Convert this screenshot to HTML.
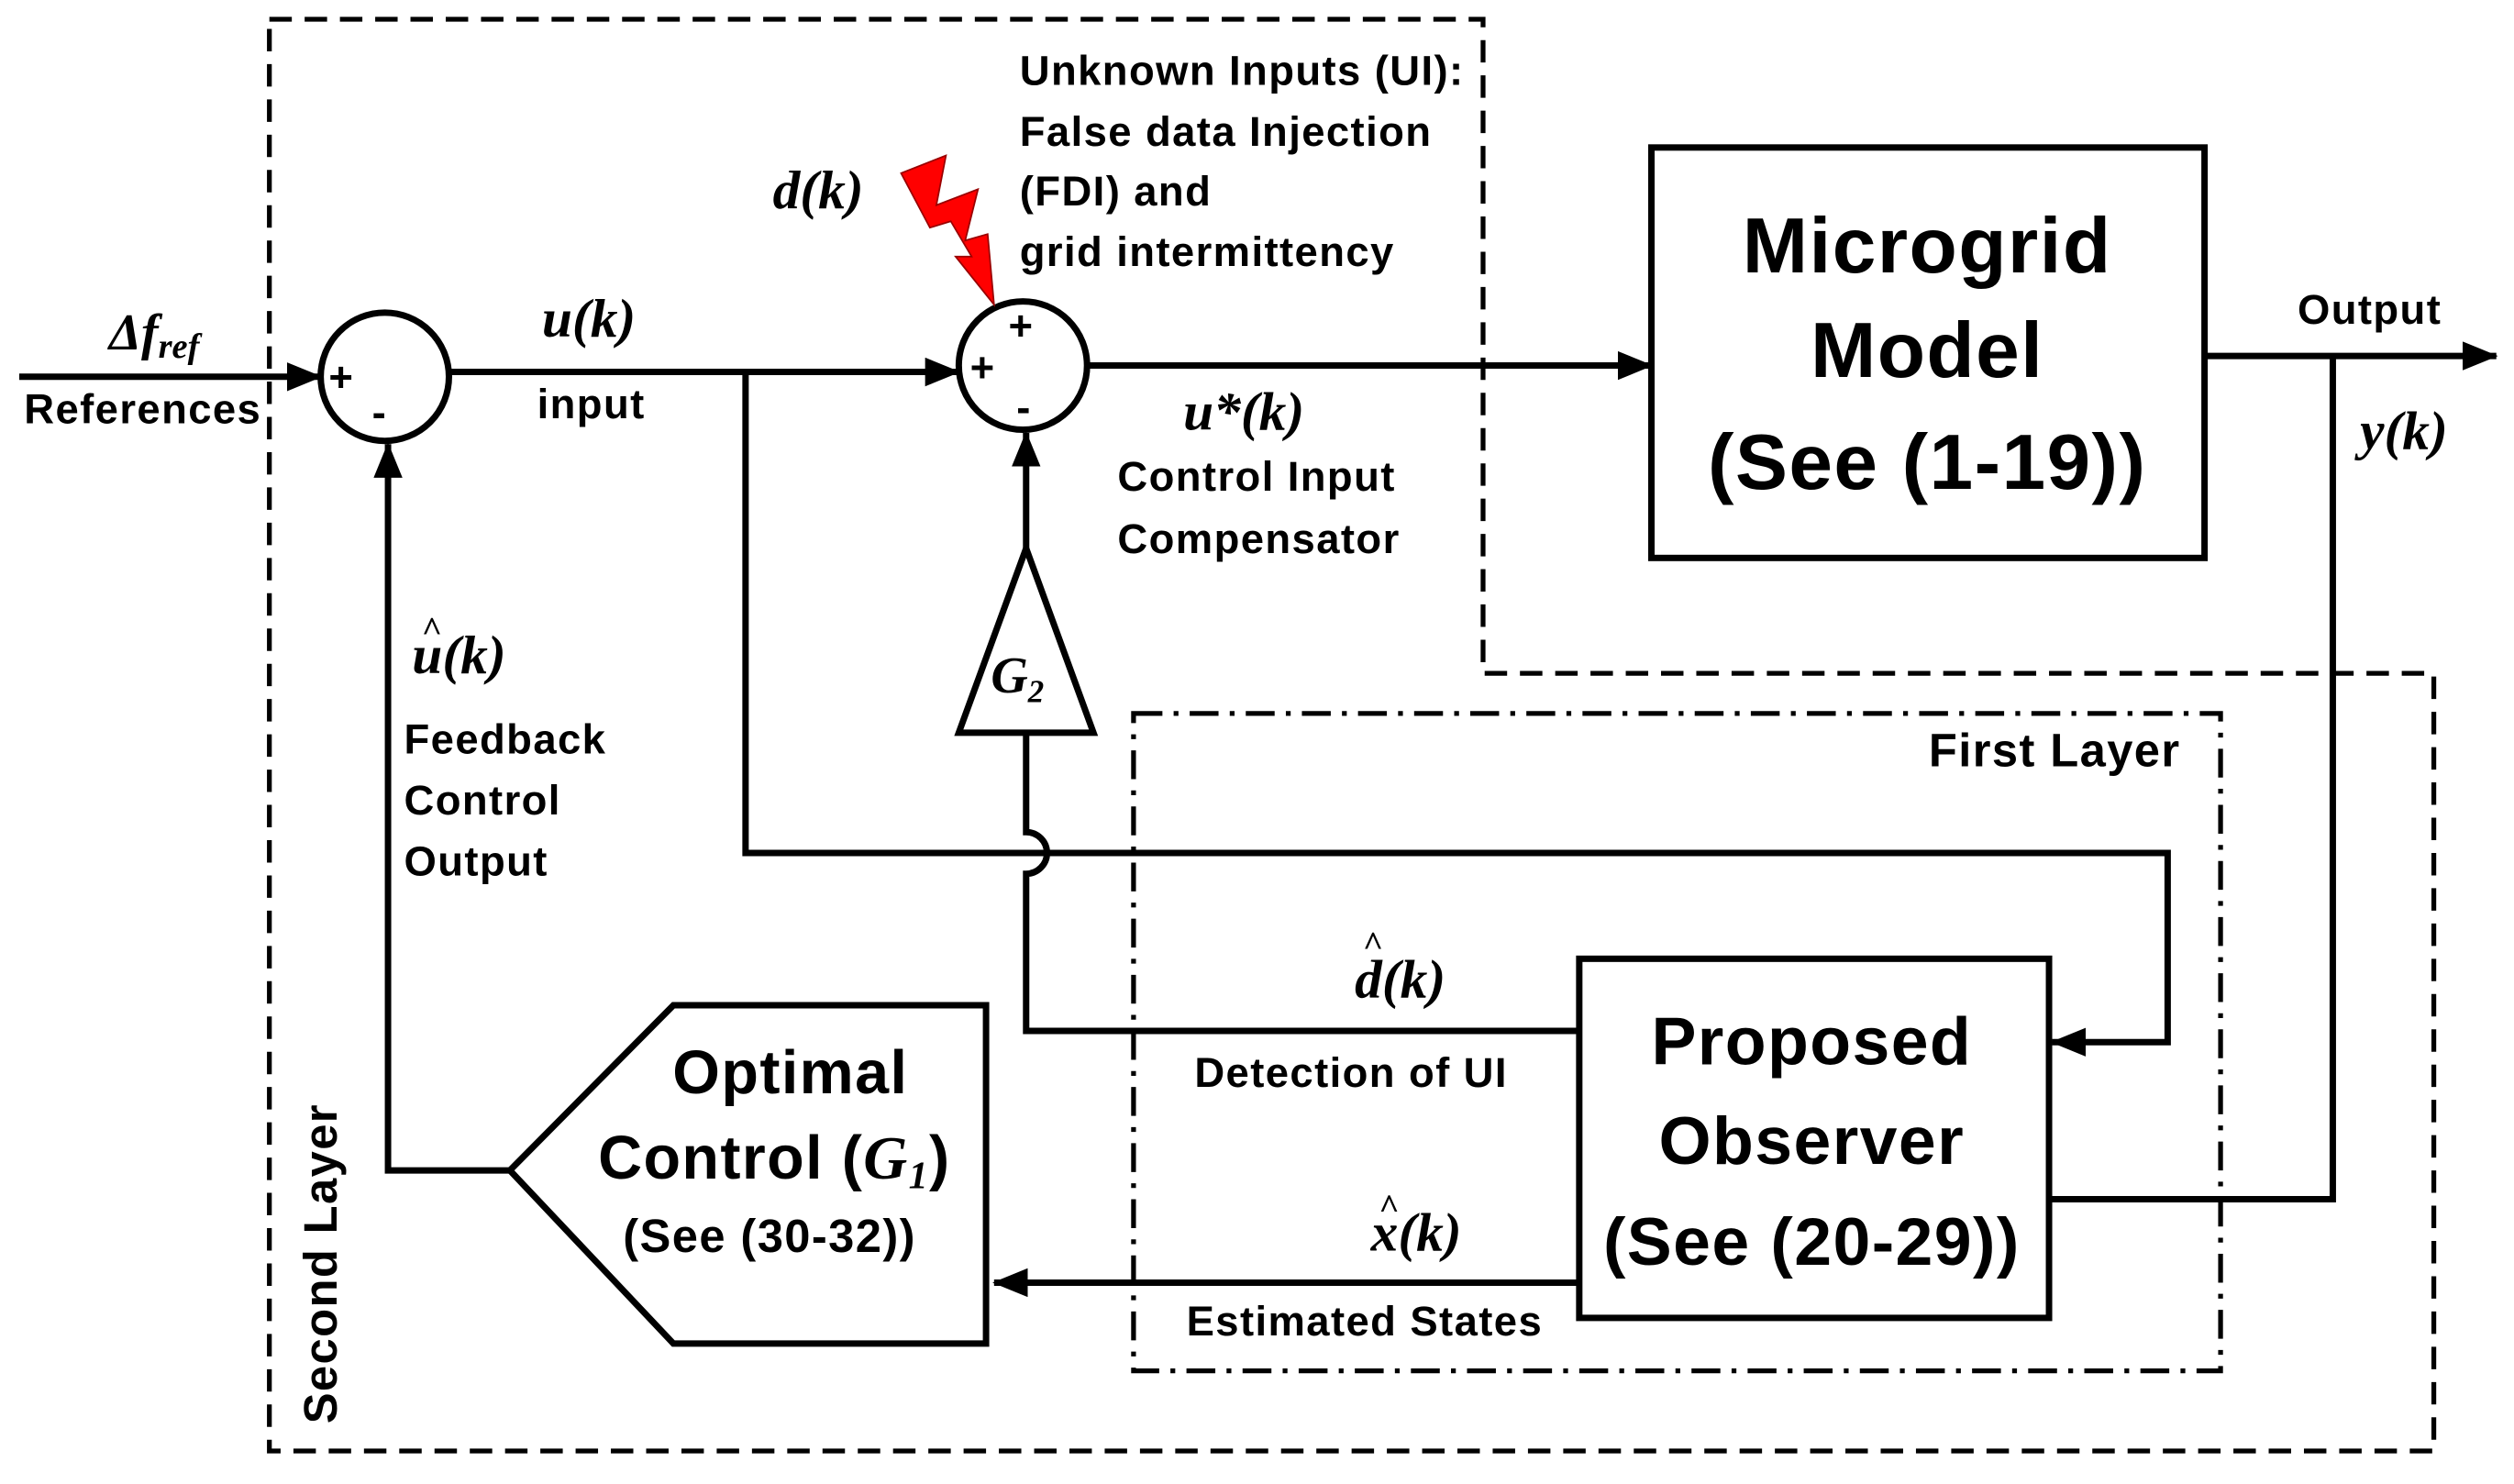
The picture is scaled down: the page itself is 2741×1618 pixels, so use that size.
<!DOCTYPE html>
<html><head><meta charset="utf-8"><style>html,body{margin:0;padding:0;background:#fff}svg{display:block}</style></head>
<body>
<svg width="2741" height="1618" viewBox="0 0 1568 925.6" xmlns="http://www.w3.org/2000/svg">
<defs>
<marker id="b" markerWidth="22" markerHeight="18" refX="21" refY="9" orient="auto" markerUnits="userSpaceOnUse"><path d="M0,0 L22,9 L0,18 z" fill="#000"/></marker>
</defs>
<rect width="1568" height="926" fill="#fff"/>
<g fill="none" stroke="#000" stroke-width="3">
<polyline points="168,12 925,12 925,420 1518,420 1518,905 168,905 168,12" stroke-dasharray="14,8"/>
<rect x="707" y="445" width="678" height="410" stroke-dasharray="18,7,3,7"/>
</g>
<g fill="none" stroke="#000" stroke-width="4">
<circle cx="240" cy="235" r="40"/>
<circle cx="638" cy="228" r="40"/>
<line x1="12" y1="235" x2="200" y2="235" marker-end="url(#b)"/>
<line x1="280" y1="232" x2="598" y2="232" marker-end="url(#b)"/>
<polyline points="465,232 465,532 1352,532 1352,650 1280,650" marker-end="url(#b)"/>
<line x1="678" y1="228" x2="1030" y2="228" marker-end="url(#b)"/>
<rect x="1030" y="92" width="345" height="256"/>
<line x1="1375" y1="222" x2="1557" y2="222" marker-end="url(#b)"/>
<polyline points="1455,222 1455,748 1278,748"/>
<rect x="985" y="598" width="293" height="224"/>
<path d="M985,643 L640,643 L640,545 A13,13 0 0 0 640,519 L640,457"/>
<polygon points="598,457 682,457 640,342"/>
<line x1="640" y1="342" x2="640" y2="270" marker-end="url(#b)"/>
<line x1="985" y1="800" x2="620" y2="800" marker-end="url(#b)"/>
<polygon points="318,730 420,627 615,627 615,838 420,838"/>
<polyline points="318,730 242,730 242,277" marker-end="url(#b)"/>
</g>
<polygon points="562,108 590,97 584,128 610,118 602,150 616,146 620,190 596,160 606,160 593,138 580,142" fill="#f00" stroke="#900" stroke-width="1"/>
<g font-family="Liberation Sans, sans-serif" font-weight="bold" fill="#000" letter-spacing="0.8">
<text x="15" y="264" font-size="26">References</text>
<text x="335" y="261" font-size="26">input</text>
<text x="636" y="53" font-size="26">Unknown Inputs (UI):</text>
<text x="636" y="91" font-size="26">False data Injection</text>
<text x="636" y="128" font-size="26">(FDI) and</text>
<text x="636" y="166" font-size="26">grid intermittency</text>
<text x="697" y="306" font-size="26">Control Input</text>
<text x="697" y="345" font-size="26">Compensator</text>
<text x="1433" y="202" font-size="26">Output</text>
<text x="252" y="470" font-size="26">Feedback</text>
<text x="252" y="508" font-size="26">Control</text>
<text x="252" y="546" font-size="26">Output</text>
<text x="1203" y="478" font-size="29">First Layer</text>
<text x="745" y="678" font-size="26">Detection of UI</text>
<text x="740" y="833" font-size="26">Estimated States</text>
<text x="1202" y="170" font-size="49" text-anchor="middle">Microgrid</text>
<text x="1202" y="235" font-size="49" text-anchor="middle">Model</text>
<text x="1202" y="305" font-size="49" text-anchor="middle">(See (1-19))</text>
<text x="1130" y="664" font-size="42" text-anchor="middle">Proposed</text>
<text x="1130" y="726" font-size="42" text-anchor="middle">Observer</text>
<text x="1130" y="789" font-size="42" text-anchor="middle">(See (20-29))</text>
<text x="493" y="682" font-size="38" text-anchor="middle">Optimal</text>
<text x="483" y="735" font-size="38" text-anchor="middle">Control (<tspan font-family="Liberation Serif, serif" font-style="italic">G</tspan><tspan font-size="24" dy="6" font-family="Liberation Serif, serif" font-style="italic">1</tspan><tspan dy="-6">)</tspan></text>
<text x="480" y="781" font-size="29" text-anchor="middle">(See (30-32))</text>
<text transform="translate(210,888) rotate(-90)" font-size="29">Second Layer</text>
<text x="205" y="244" font-size="26">+</text>
<text x="232" y="266" font-size="26">-</text>
<text x="629" y="212" font-size="26">+</text>
<text x="605" y="238" font-size="26">+</text>
<text x="634" y="263" font-size="26">-</text>
</g>
<g font-family="Liberation Serif, serif" font-weight="bold" font-style="italic" fill="#000">
<text x="68" y="218" font-size="32">Δf<tspan font-size="22" dy="5">ref</tspan></text>
<text x="338" y="210" font-size="34">u(k)</text>
<text x="482" y="130" font-size="34">d(k)</text>
<text x="738" y="268" font-size="34">u*(k)</text>
<text x="1472" y="280" font-size="34">y(k)</text>
<text x="257" y="420" font-size="34">u(k)</text><text x="263" y="400" font-size="22" font-style="normal">^</text>
<text x="845" y="622" font-size="34">d(k)</text><text x="850" y="596" font-size="22" font-style="normal">^</text>
<text x="855" y="780" font-size="34">x(k)</text><text x="860" y="760" font-size="22" font-style="normal">^</text>
<text x="618" y="432" font-size="32">G<tspan font-size="20" dy="6">2</tspan></text>
</g>
</svg>
</body></html>
